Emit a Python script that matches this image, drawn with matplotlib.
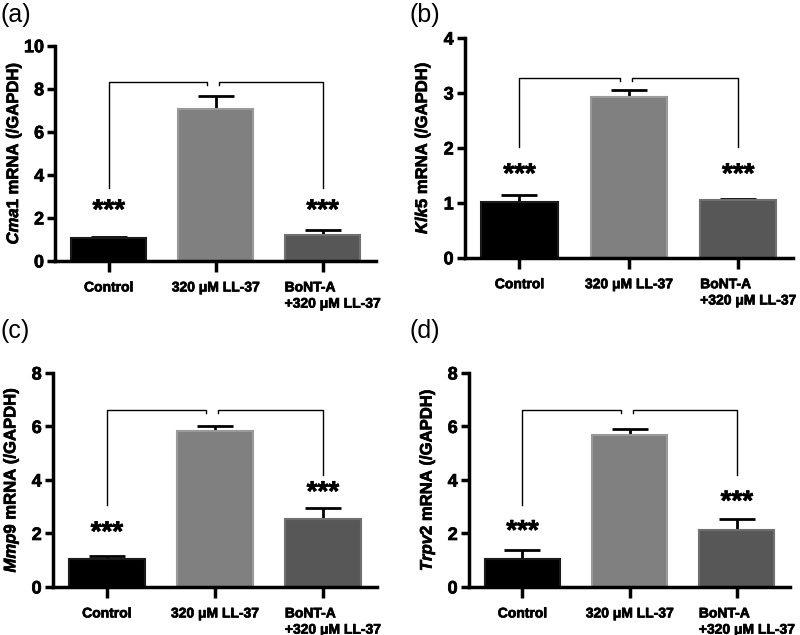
import matplotlib
matplotlib.use("Agg")
import matplotlib.pyplot as plt
import matplotlib.transforms as mtransforms
import matplotlib.patheffects as pe

plt.rcParams['font.family'] = 'Liberation Sans'
plt.rcParams['font.weight'] = 'bold'
plt.rcParams['mathtext.fontset'] = 'custom'
plt.rcParams['mathtext.it'] = 'Liberation Sans:italic:bold'
plt.rcParams['mathtext.rm'] = 'Liberation Sans:bold'

groups = ['Control', '320 μM LL-37', 'BoNT-A\n+320 μM LL-37']
bar_colors = ['#000000', '#808080', '#575757']
edge_colors = ['#1a1a1a', '#9a9a9a', '#707070']

genes = ['Cma1', 'Klk5', 'Mmp9', 'Trpv2']
letters = ['(a)', '(b)', '(c)', '(d)']
means = [[1.05, 7.05, 1.2], [1.02, 2.93, 1.05], [1.03, 5.85, 2.55], [1.05, 5.68, 2.12]]
errs = [[0.05, 0.6, 0.24], [0.12, 0.13, 0.02], [0.13, 0.17, 0.4], [0.33, 0.22, 0.43]]
ymax = [10, 4, 8, 8]
yticks = [[0, 2, 4, 6, 8, 10], [0, 1, 2, 3, 4], [0, 2, 4, 6, 8], [0, 2, 4, 6, 8]]
bracket_y = [8.3, 3.27, 6.6, 6.6]
bracket_left_low = [3.4, 2.02, 3.07, 3.07]
bracket_right_low = [3.4, 2.02, 4.2, 4.2]
star_y = [[2.3, 2.3], [1.5, 1.5], [2.0, 3.5], [2.05, 3.15]]

# axes boxes [left, bottom, width, height]
boxes = [[0.069, 0.589, 0.401, 0.339],
         [0.581, 0.594, 0.41, 0.346],
         [0.066, 0.0756, 0.405, 0.337],
         [0.586, 0.0756, 0.402, 0.337]]
letter_pos = [(0.0, 0.995), (0.512, 0.995), (0.0, 0.497), (0.512, 0.497)]

thick = [pe.withStroke(linewidth=0.5, foreground='black')]

fig = plt.figure(figsize=(8, 6.35), dpi=100)

for i in range(4):
    ax = fig.add_axes(boxes[i])
    x = [0, 1, 2]
    ax.bar(x, means[i], width=0.7, color=bar_colors, edgecolor=edge_colors, linewidth=1.5, zorder=2)
    ax.errorbar(x, means[i], yerr=[[0, 0, 0], errs[i]], fmt='none', ecolor='black',
                elinewidth=2, capsize=13, capthick=2, zorder=1)
    ax.set_xlim(-0.5, 2.5)
    ax.set_ylim(0, ymax[i])
    ax.set_yticks(yticks[i])
    ax.set_xticks(x)
    ax.spines['top'].set_visible(False)
    ax.spines['right'].set_visible(False)
    ax.spines['left'].set_linewidth(2.5)
    ax.spines['bottom'].set_linewidth(2.5)
    ax.tick_params(axis='y', width=2.5, length=6, pad=2, labelsize=13)
    ax.tick_params(axis='x', width=2.5, length=8, pad=6, labelsize=10)
    ax.set_xticklabels(groups, fontweight='bold', multialignment='left')
    offset = mtransforms.ScaledTranslation(0.1, 0, fig.dpi_scale_trans)
    lbl = ax.get_xticklabels()[2]
    lbl.set_transform(lbl.get_transform() + offset)
    for t in ax.get_xticklabels() + ax.get_yticklabels():
        t.set_fontweight('bold')
        t.set_path_effects(thick)
    yl = ax.set_ylabel('$\\mathit{' + genes[i] + '}$ mRNA (/GAPDH)', fontsize=12, fontweight='bold')
    yl.set_path_effects(thick)
    ax.yaxis.set_label_coords(-0.10, 0.5)

    # significance brackets
    by = bracket_y[i]
    tick = ymax[i] * 0.012
    ax.plot([0, 0, 0.92, 0.92], [bracket_left_low[i], by, by, by - tick], color='black', lw=1, clip_on=False)
    ax.plot([1.03, 1.03, 2, 2], [by - tick, by, by, bracket_right_low[i]], color='black', lw=1, clip_on=False)
    ax.text(0, star_y[i][0], '***', ha='center', va='center', fontsize=20, fontweight='bold', path_effects=thick)
    ax.text(2, star_y[i][1], '***', ha='center', va='center', fontsize=20, fontweight='bold', path_effects=thick)

    fig.text(letter_pos[i][0], letter_pos[i][1], letters[i], fontsize=18, fontweight='normal', ha='left', va='top')

fig.savefig('out.png', dpi=100)
